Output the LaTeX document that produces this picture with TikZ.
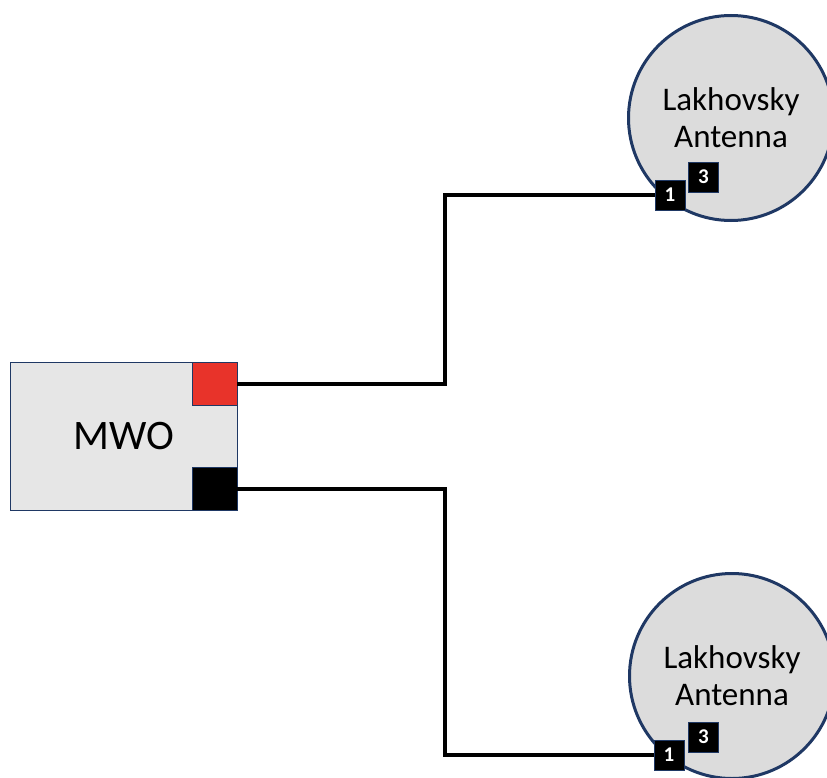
\documentclass[tikz,border=0pt]{standalone}
\usepackage{fontspec}
\setmainfont{Carlito}
\definecolor{navy}{HTML}{1F3864}
\definecolor{boxfill}{HTML}{E6E6E6}
\definecolor{circfill}{HTML}{DCDCDC}
\definecolor{portred}{HTML}{E8332A}
\begin{document}
\begin{tikzpicture}[x=1pt,y=-1pt,
  antenna/.style={circle,draw=navy,line width=3pt,fill=circfill,minimum size=205pt,inner sep=0pt,align=center,font=\fontsize{33}{37}\selectfont},
  mwobox/.style={draw=navy,line width=0.8pt,fill=boxfill,minimum width=227pt,minimum height=148pt,inner sep=0pt,font=\fontsize{42}{46}\selectfont},
  port/.style={draw=navy,line width=0.8pt,minimum width=45pt,minimum height=43pt,inner sep=0pt},
  pin/.style={draw=navy,line width=0.8pt,fill=black,text=white,minimum size=30pt,inner sep=0pt,font=\bfseries\fontsize{21}{21}\selectfont},
  wire/.style={line width=4pt,black}]
\useasboundingbox (0,0) rectangle (827,778);
\node[antenna] (a1) at (731,118) {Lakhovsky\\Antenna};
\node[antenna] (a2) at (732,676) {Lakhovsky\\Antenna};
\node[mwobox] (mwo) at (123.5,436) {MWO};
\node[port,fill=portred] (rp) at (214.5,383.5) {};
\node[port,fill=black] (bp) at (214.5,488.5) {};
\node[pin] (t3) at (703.5,177) {3};
\node[pin] (t1) at (670,195) {1};
\node[pin] (b3) at (703.5,737) {3};
\node[pin] (b1) at (669,755) {1};
\draw[wire] (rp.east) -- (445,383.5) |- (t1.west);
\draw[wire] (bp.east) -- (445,488.5) |- (b1.west);
\end{tikzpicture}
\end{document}
